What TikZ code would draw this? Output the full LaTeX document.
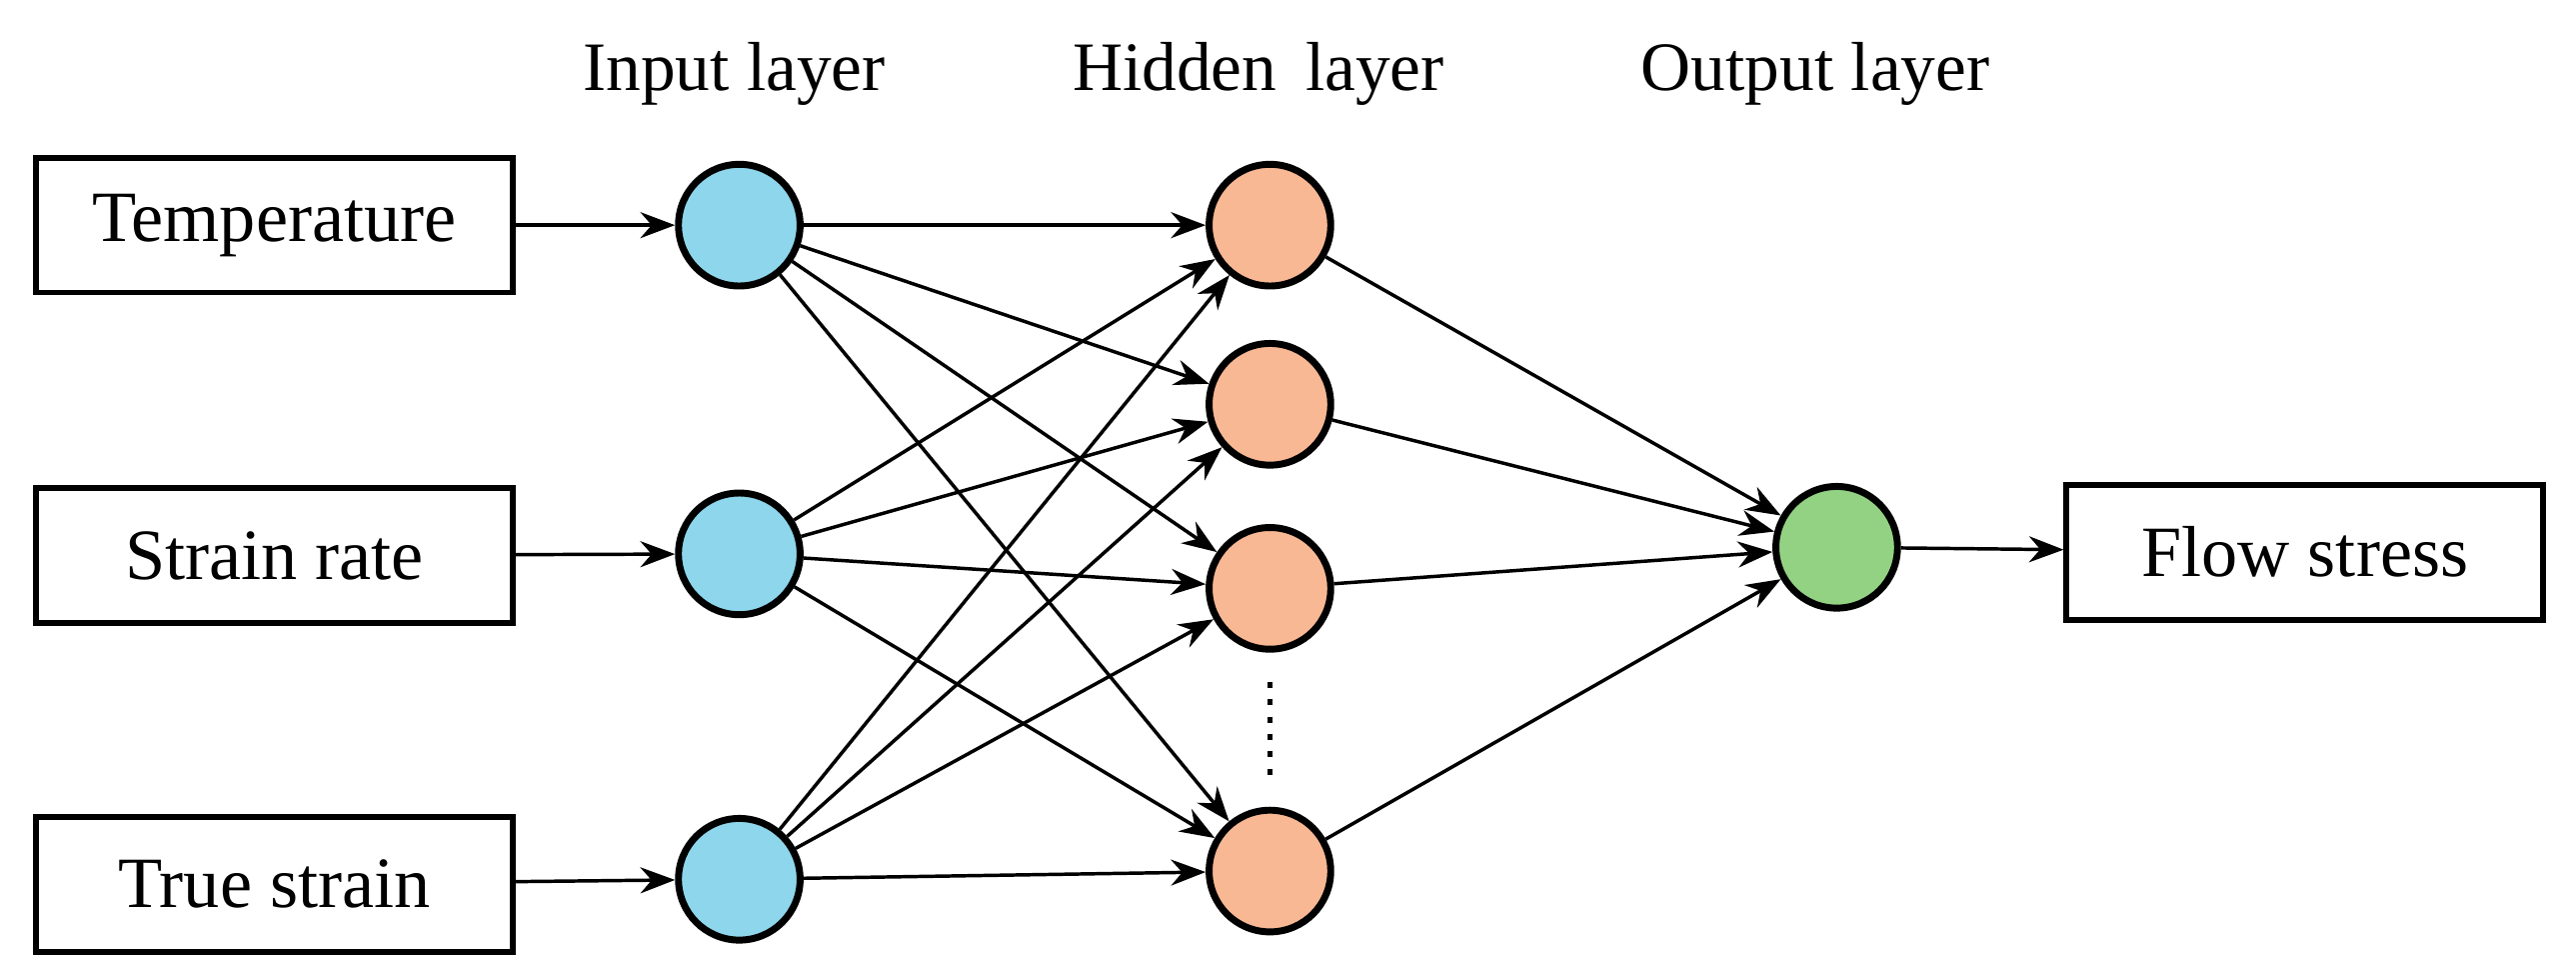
\documentclass[tikz,border=0pt]{standalone}
\usepackage{fontspec}
\setmainfont{Liberation Serif}
\usetikzlibrary{arrows.meta}
\definecolor{inb}{HTML}{8ED6EC}
\definecolor{hid}{HTML}{F8B894}
\definecolor{outg}{HTML}{94D283}
\begin{document}
\begin{tikzpicture}[x=0.01cm,y=-0.01cm,
  box/.style={draw,line width=1pt,minimum width=2.9cm,minimum height=0.82cm,font=\fontsize{12.5}{14}\selectfont},
  neu/.style={circle,draw,line width=1.2pt,minimum size=0.74cm,inner sep=0pt},
  lbl/.style={font=\fontsize{12}{14}\selectfont},
  ar/.style={-{Stealth[length=6pt,width=4.5pt]},line width=0.6pt}]
\useasboundingbox (0,0) rectangle (1568,594);
\node[lbl] (l1) at (447,45) {Input layer};
\node[lbl] (l2) at (766,45) {Hidden\, layer};
\node[lbl] (l3) at (1105,45) {Output layer};
\node[box] (b1) at (167,137) {Temperature};
\node[box] (b2) at (167,338) {Strain rate};
\node[box] (b3) at (167,538) {True strain};
\node[box] (bo) at (1403,336) {Flow stress};
\node[neu,fill=inb] (i1) at (450,137) {};
\node[neu,fill=inb] (i2) at (450,337) {};
\node[neu,fill=inb] (i3) at (450,535) {};
\node[neu,fill=hid] (h1) at (773,137) {};
\node[neu,fill=hid] (h2) at (773,246) {};
\node[neu,fill=hid] (h3) at (773,358) {};
\node[neu,fill=hid] (h4) at (773,530) {};
\node[neu,fill=outg] (o) at (1118,333) {};
\coordinate (d1) at (773,415);
\coordinate (d2) at (773,472);
\draw[line width=1pt,dotted] (d1) -- (d2);
\draw[ar] (b1) -- (i1);
\draw[ar] (b2) -- (i2);
\draw[ar] (b3) -- (i3);
\foreach \i in {i1,i2,i3}{\foreach \h in {h1,h2,h3,h4}{\draw[ar] (\i) -- (\h);}}
\foreach \h in {h1,h2,h3,h4}{\draw[ar] (\h) -- (o);}
\draw[ar] (o) -- (bo);
\end{tikzpicture}
\end{document}
